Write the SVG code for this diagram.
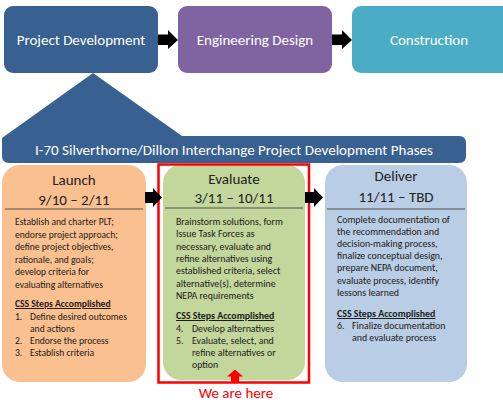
<svg xmlns="http://www.w3.org/2000/svg" width="503" height="403" viewBox="0 0 503 403">
  <style>
    .hdr { font-family: Carlito, "Liberation Sans", sans-serif; font-size: 15px; fill: #ffffff; text-anchor: middle; }
    .ttl { font-family: Carlito, "Liberation Sans", sans-serif; font-size: 15px; fill: #222222; text-anchor: middle; }
    .body { font-family: Carlito, "Liberation Sans", sans-serif; font-size: 9.9px; fill: #1a1a1a; }
    .small { font-size: 9.6px; }
    .sub { font-weight: bold; text-decoration: underline; }
    .rule { stroke: #505050; stroke-width: 1.2; }
    .arrow { fill: #000000; }
  </style>
  <rect width="503" height="403" fill="#ffffff"/>

  <!-- top row of stages -->
  <g id="project-development">
    <rect x="4" y="6" width="154" height="67" rx="9" fill="#386090"/>
    <text class="hdr" x="81" y="45">Project Development</text>
  </g>
  <g id="engineering-design">
    <rect x="178" y="6" width="154" height="67" rx="9" fill="#8064A2"/>
    <text class="hdr" x="255" y="45">Engineering Design</text>
  </g>
  <g id="construction">
    <rect x="352" y="6" width="165" height="67" rx="9" fill="#4BACC6"/>
    <text class="hdr" x="429" y="45">Construction</text>
  </g>

  <!-- expansion wedge and phases banner -->
  <g id="phases-banner">
    <path d="M93,73 L182,136 L459,136 Q466,136 466,143 L466,156 Q466,163 459,163 L9,163 Q2,163 2,156 L2,138 Z" fill="#386090"/>
    <text class="hdr" x="234" y="155" textLength="398" lengthAdjust="spacingAndGlyphs">I-70 Silverthorne/Dillon Interchange Project Development Phases</text>
  </g>

  <!-- phase cards -->
  <g id="launch">
    <rect x="2" y="165" width="144" height="217" rx="18" fill="#FAC090"/>
    <text class="ttl" x="74" y="185">Launch</text>
    <text class="ttl" x="74" y="205">9/10 – 2/11</text>
    <line class="rule" x1="5" y1="209" x2="143" y2="209"/>
    <text class="body small">
      <tspan x="15" y="225">Establish and charter PLT;</tspan>
      <tspan x="15" y="237.5">endorse project approach;</tspan>
      <tspan x="15" y="250">define project objectives,</tspan>
      <tspan x="15" y="262.5">rationale, and goals;</tspan>
      <tspan x="15" y="275">develop criteria for</tspan>
      <tspan x="15" y="287.5">evaluating alternatives</tspan>
    </text>
    <text class="body small sub" x="15" y="307">CSS Steps Accomplished</text>
    <text class="body small">
      <tspan x="15" y="320">1.</tspan><tspan x="30" y="320">Define desired outcomes</tspan>
      <tspan x="30" y="332">and actions</tspan>
      <tspan x="15" y="344">2.</tspan><tspan x="30" y="344">Endorse the process</tspan>
      <tspan x="15" y="356">3.</tspan><tspan x="30" y="356">Establish criteria</tspan>
    </text>
  </g>

  <g id="evaluate">
    <rect x="163" y="165" width="142" height="215" rx="18" fill="#C3D69B"/>
    <text class="ttl" x="234" y="184">Evaluate</text>
    <text class="ttl" x="234" y="203">3/11 – 10/11</text>
    <line class="rule" x1="165" y1="208" x2="303" y2="208"/>
    <text class="body">
      <tspan x="176" y="225">Brainstorm solutions, form</tspan>
      <tspan x="176" y="237.3">Issue Task Forces as</tspan>
      <tspan x="176" y="249.6">necessary, evaluate and</tspan>
      <tspan x="176" y="261.9">refine alternatives using</tspan>
      <tspan x="176" y="274.2">established criteria, select</tspan>
      <tspan x="176" y="286.5">alternative(s), determine</tspan>
      <tspan x="176" y="298.8">NEPA requirements</tspan>
    </text>
    <text class="body sub" x="176" y="319">CSS Steps Accomplished</text>
    <text class="body">
      <tspan x="176" y="332">4.</tspan><tspan x="192" y="332">Develop alternatives</tspan>
      <tspan x="176" y="344">5.</tspan><tspan x="192" y="344">Evaluate, select, and</tspan>
      <tspan x="192" y="356">refine alternatives or</tspan>
      <tspan x="192" y="368">option</tspan>
    </text>
  </g>

  <g id="deliver">
    <rect x="325" y="165" width="142" height="217" rx="18" fill="#B9CDE5"/>
    <text class="ttl" x="396" y="181">Deliver</text>
    <text class="ttl" x="396" y="202">11/11 – TBD</text>
    <line class="rule" x1="327" y1="209" x2="465" y2="209"/>
    <text class="body">
      <tspan x="337" y="223">Complete documentation of</tspan>
      <tspan x="337" y="235">the recommendation and</tspan>
      <tspan x="337" y="247">decision-making process,</tspan>
      <tspan x="337" y="259">finalize conceptual design,</tspan>
      <tspan x="337" y="271">prepare NEPA document,</tspan>
      <tspan x="337" y="284">evaluate process, identify</tspan>
      <tspan x="337" y="296">lessons learned</tspan>
    </text>
    <text class="body sub" x="337" y="317">CSS Steps Accomplished</text>
    <text class="body">
      <tspan x="337" y="329">6.</tspan><tspan x="352" y="329">Finalize documentation</tspan>
      <tspan x="352" y="341">and evaluate process</tspan>
    </text>
  </g>

  <!-- current-phase callout -->
  <g id="current-marker">
    <rect x="158.5" y="164.5" width="150.5" height="218" fill="none" stroke="#FF0000" stroke-width="2.5"/>
    <path d="M235,369.5 L243,376.5 L239,376.5 L239,383 L231,383 L231,376.5 L227,376.5 Z" fill="#FF0000"/>
    <text x="236" y="398" font-family="Carlito, 'Liberation Sans', sans-serif" font-size="15px" fill="#FF0000" text-anchor="middle">We are here</text>
  </g>

  <!-- block arrows between stages and phases -->
  <g id="connectors">
    <path class="arrow" d="M158,34.5 L168,34.5 L168,30 L178,40 L168,49 L168,45 L158,45 Z"/>
    <path class="arrow" d="M332,34.5 L342,34.5 L342,30 L352,40 L342,49 L342,45 L332,45 Z"/>
    <path class="arrow" d="M145,192 L153,192 L153,188 L162,197.5 L153,207 L153,203 L145,203 Z"/>
    <path class="arrow" d="M305,192 L314,192 L314,188 L323,197.5 L314,207 L314,203 L305,203 Z"/>
  </g>
</svg>
